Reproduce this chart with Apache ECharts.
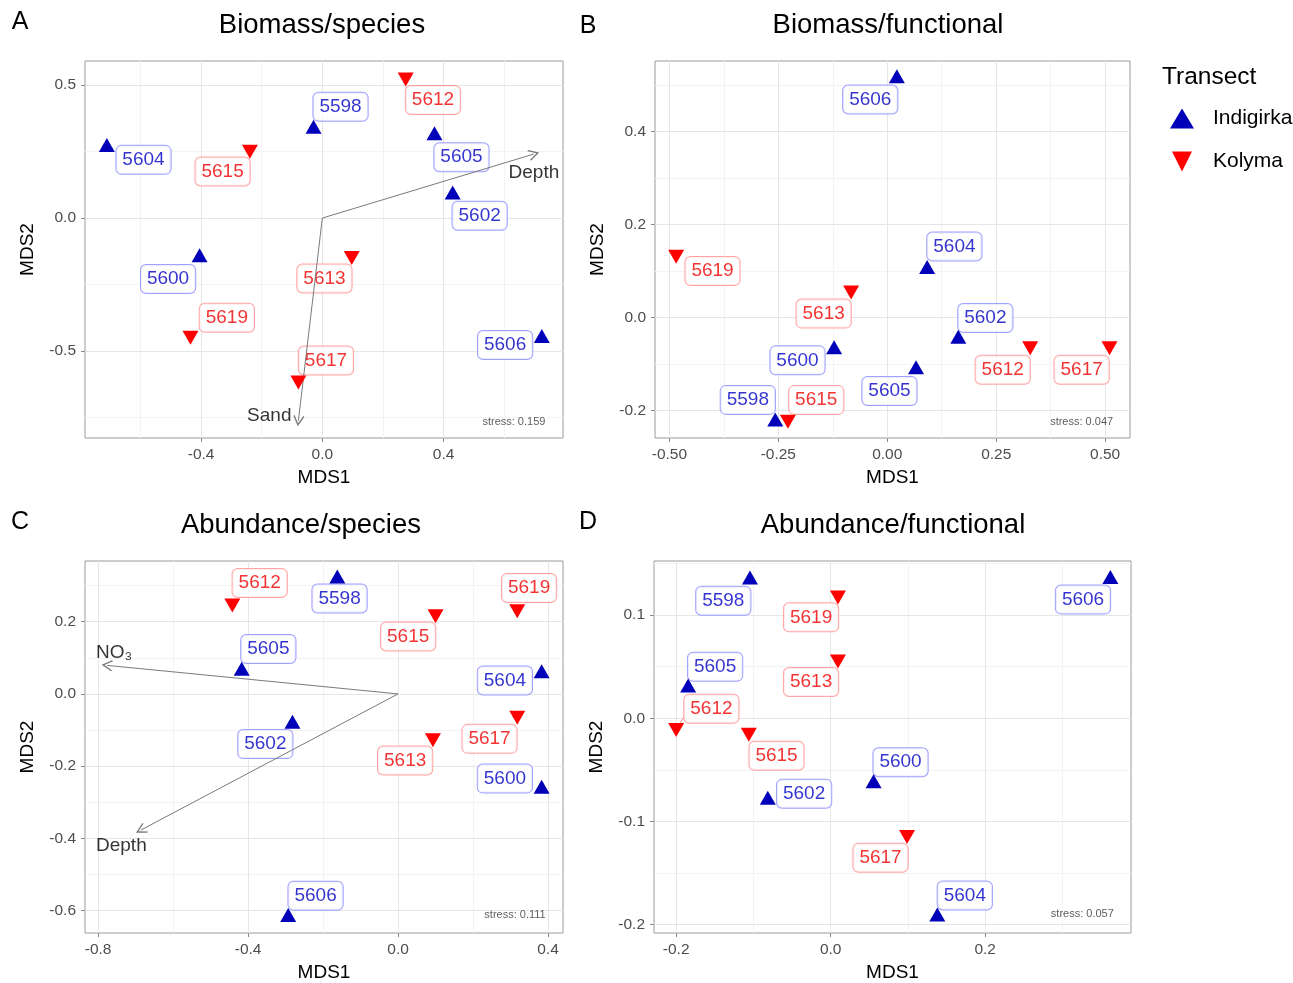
<!DOCTYPE html>
<html><head><meta charset="utf-8">
<script src="https://cdn.jsdelivr.net/npm/echarts@6/dist/echarts.min.js"></script>
<style>html,body{margin:0;padding:0;background:#fff}#c{width:1293px;height:983px}</style>
</head><body><div id="c"></div>
<script>
// ---------- DATA ----------
// Panel A: Biomass/species  [station, MDS1, MDS2]
const aIndigirka = [['5598',-0.029,0.344],['5600',-0.405,-0.14],['5602',0.43,0.096],['5604',-0.711,0.275],['5605',0.37,0.319],['5606',0.724,-0.444]];
const aKolyma = [['5612',0.275,0.521],['5613',0.097,-0.15],['5615',-0.239,0.25],['5617',-0.079,-0.619],['5619',-0.435,-0.45]];
const aIndLabels = [['5598',0.06,0.419],['5600',-0.509,-0.229],['5602',0.519,0.009],['5604',-0.59,0.219],['5605',0.459,0.229],['5606',0.603,-0.4775]];
const aKolLabels = [['5612',0.365,0.444],['5613',0.007,-0.2275],['5615',-0.329,0.175],['5617',0.012,-0.536],['5619',-0.315,-0.375]];
const aVectors = [['Depth',0.698,0.241,0.698,0.169],['Sand',-0.079,-0.7625,-0.175,-0.744]];
const aStress = ['stress: 0.159',0.632,-0.769];
const aXTicks = [-0.4,0,0.4], aXMinor = [-0.6,-0.2,0.2,0.6];
const aYTicks = [-0.5,0,0.5], aYMinor = [-0.75,-0.25,0.25];

// Panel B: Biomass/functional
const bIndigirka = [['5598',-0.257,-0.219],['5600',-0.122,-0.064],['5602',0.163,-0.041],['5604',0.0915,0.109],['5605',0.066,-0.107],['5606',0.022,0.519]];
const bKolyma = [['5612',0.328,-0.066],['5613',-0.083,0.054],['5615',-0.228,-0.224],['5617',0.51,-0.066],['5619',-0.4845,0.131]];
const bIndLabels = [['5598',-0.32,-0.177],['5600',-0.206,-0.092],['5602',0.225,-0.0007],['5604',0.154,0.153],['5605',0.005,-0.158],['5606',-0.039,0.469]];
const bKolLabels = [['5612',0.265,-0.112],['5613',-0.146,0.0086],['5615',-0.163,-0.177],['5617',0.446,-0.112],['5619',-0.401,0.1]];
const bVectors = [];
const bStress = ['stress: 0.047',0.446,-0.225];
const bXTicks = [-0.5,-0.25,0,0.25,0.5], bXMinor = [-0.375,-0.125,0.125,0.375];
const bYTicks = [-0.2,0,0.2,0.4], bYMinor = [-0.1,0.1,0.3,0.5];

// Panel C: Abundance/species
const cIndigirka = [['5598',-0.162,0.325],['5600',0.383,-0.257],['5602',-0.2816,-0.077],['5604',0.383,0.063],['5605',-0.417,0.07],['5606',-0.293,-0.612]];
const cKolyma = [['5612',-0.442,0.245],['5613',0.093,-0.128],['5615',0.1,0.215],['5617',0.318,-0.066],['5619',0.318,0.229]];
const cIndLabels = [['5598',-0.156,0.264],['5600',0.285,-0.2345],['5602',-0.354,-0.139],['5604',0.285,0.037],['5605',-0.346,0.1245],['5606',-0.22,-0.559]];
const cKolLabels = [['5612',-0.369,0.307],['5613',0.019,-0.1845],['5615',0.027,0.159],['5617',0.244,-0.1245],['5619',0.3495,0.293]];
const cVectors = [['NO₃',-0.776,0.079,-0.757,0.115],['Depth',-0.686,-0.377,-0.738,-0.421]];
const cStress = ['stress: 0.111',0.312,-0.612];
const cXTicks = [-0.8,-0.4,0,0.4], cXMinor = [-0.6,-0.2,0.2];
const cYTicks = [-0.6,-0.4,-0.2,0,0.2], cYMinor = [-0.5,-0.3,-0.1,0.1,0.3];

// Panel D: Abundance/functional
const dIndigirka = [['5598',-0.1045,0.1365],['5600',0.0555,-0.061],['5602',-0.0814,-0.077],['5604',0.138,-0.19],['5605',-0.1845,0.0317],['5606',0.362,0.137]];
const dKolyma = [['5612',-0.2,-0.0114],['5613',0.0094,0.055],['5615',-0.106,-0.016],['5617',0.0988,-0.115],['5619',0.0094,0.117]];
const dIndLabels = [['5598',-0.139,0.114],['5600',0.0904,-0.0425],['5602',-0.0344,-0.073],['5604',0.1736,-0.1717],['5605',-0.1496,0.05],['5606',0.3266,0.115]];
const dKolLabels = [['5612',-0.1544,0.0092],['5613',-0.0254,0.0352],['5615',-0.0701,-0.0362],['5617',0.0645,-0.135],['5619',-0.0254,0.0978]];
const dVectors = [];
const dSegments = [[-0.19,0.0013,-0.1986,-0.0089]];
const dStress = ['stress: 0.057',0.3257,-0.19];
const dXTicks = [-0.2,0,0.2], dXMinor = [-0.1,0.1,0.3];
const dYTicks = [-0.2,-0.1,0,0.1], dYMinor = [-0.15,-0.05,0.05,0.15];

// ---------- STYLE / LAYOUT ----------
const FONT = "'Liberation Sans', Arial, Helvetica, sans-serif";
const BLUE = '#0000B8', BLUE_TXT = '#0000C4', BLUE_BORDER = '#8a8aff';
const RED = '#FF0000', RED_TXT = '#F00000', RED_BORDER = '#ff8f8f';
const DOWN = 'path://M0,0L10,0L5,10Z';
const ARROW = 'path://M5,0L10,9L9.2,10L5,2.6L0.8,10L0,9Z';

const panels = [
  {grid:{left:85,top:61,width:478,height:377}, x:[-0.783,0.794], y:[-0.8275,0.591], xDec:1, yDec:1,
   xT:aXTicks,xM:aXMinor,yT:aYTicks,yM:aYMinor, ind:aIndigirka,kol:aKolyma,indL:aIndLabels,kolL:aKolLabels,vec:aVectors,stress:aStress,seg:[]},
  {grid:{left:655,top:61,width:475,height:377}, x:[-0.533,0.557], y:[-0.259,0.552], xDec:2, yDec:1,
   xT:bXTicks,xM:bXMinor,yT:bYTicks,yM:bYMinor, ind:bIndigirka,kol:bKolyma,indL:bIndLabels,kolL:bKolLabels,vec:bVectors,stress:bStress,seg:[]},
  {grid:{left:85,top:561,width:478,height:377}, x:[-0.835,0.44], y:[-0.662,0.368], xDec:1, yDec:1,
   xT:cXTicks,xM:cXMinor,yT:cYTicks,yM:cYMinor, ind:cIndigirka,kol:cKolyma,indL:cIndLabels,kolL:cKolLabels,vec:cVectors,stress:cStress,seg:[]},
  {grid:{left:654,top:561,width:477,height:377}, x:[-0.2287,0.3887], y:[-0.208,0.1524], xDec:1, yDec:1,
   xT:dXTicks,xM:dXMinor,yT:dYTicks,yM:dYMinor, ind:dIndigirka,kol:dKolyma,indL:dIndLabels,kolL:dKolLabels,vec:dVectors,stress:dStress,seg:dSegments}
];

const grids = [], xAxes = [], yAxes = [], series = [];
const fmt = (v,d) => { const s = Number(v).toFixed(d); return s === '-' + (0).toFixed(d) ? (0).toFixed(d) : s; };

panels.forEach((p, i) => {
  grids.push(Object.assign({show:true, borderColor:'#9a9a9a', borderWidth:1, backgroundColor:'#fff', containLabel:false}, p.grid));
  const xi = xAxes.length, yi = yAxes.length;
  xAxes.push({gridIndex:i, type:'value', min:p.x[0], max:p.x[1], position:'bottom', z:1,
    axisLine:{show:false, onZero:false},
    axisTick:{show:true, length:4, lineStyle:{color:'#8a8a8a'}, customValues:p.xT},
    axisLabel:{customValues:p.xT, formatter:v=>fmt(v,p.xDec), color:'#4d4d4d', fontSize:15.5, margin:9, fontFamily:FONT},
    splitLine:{show:true, lineStyle:{color:'#e6e6e6', width:1}},
    name:'MDS1', nameLocation:'middle', nameGap:30, nameTextStyle:{fontSize:19, color:'#000', fontFamily:FONT}});
  xAxes.push({gridIndex:i, type:'value', min:p.x[0], max:p.x[1], position:'top', z:0,
    axisLine:{show:false, onZero:false}, axisTick:{show:false, customValues:p.xM}, axisLabel:{show:false},
    splitLine:{show:true, lineStyle:{color:'#f3f3f3', width:1}}});
  yAxes.push({gridIndex:i, type:'value', min:p.y[0], max:p.y[1], position:'left', z:1,
    axisLine:{show:false, onZero:false},
    axisTick:{show:true, length:4, lineStyle:{color:'#8a8a8a'}, customValues:p.yT},
    axisLabel:{customValues:p.yT, formatter:v=>fmt(v,p.yDec), color:'#4d4d4d', fontSize:15.5, margin:9, fontFamily:FONT},
    splitLine:{show:true, lineStyle:{color:'#e6e6e6', width:1}},
    name:'MDS2', nameLocation:'middle', nameGap:48, nameTextStyle:{fontSize:19, color:'#000', fontFamily:FONT}});
  yAxes.push({gridIndex:i, type:'value', min:p.y[0], max:p.y[1], position:'right', z:0,
    axisLine:{show:false, onZero:false}, axisTick:{show:false, customValues:p.yM}, axisLabel:{show:false},
    splitLine:{show:true, lineStyle:{color:'#f3f3f3', width:1}}});

  const base = {xAxisIndex:xi, yAxisIndex:yi, silent:true, animation:false};
  const labelSeries = (rows, txt, border) => Object.assign({}, base, {
    type:'scatter', z:3, symbol:'rect', symbolSize:1, itemStyle:{color:'rgba(0,0,0,0)'},
    data: rows.map(r => ({name:r[0], value:[r[1], r[2]]})),
    label:{show:true, position:'inside', formatter:'{b}', color:txt, fontSize:19, fontFamily:FONT,
      backgroundColor:'#fff', borderColor:border, borderWidth:1, borderRadius:5, padding:[4,6,2,6], lineHeight:22}
  });
  series.push(labelSeries(p.indL, BLUE_TXT, BLUE_BORDER));
  series.push(labelSeries(p.kolL, RED_TXT, RED_BORDER));

  if (p.vec.length) {
    series.push(Object.assign({}, base, {type:'lines', coordinateSystem:'cartesian2d', z:4,
      symbol:['none', ARROW], symbolSize:11,
      lineStyle:{color:'#7a7a7a', width:1, opacity:1, curveness:0},
      data: p.vec.map(v => ({coords:[[0,0],[v[1],v[2]]]}))}));
  }
  if (p.seg.length) {
    series.push(Object.assign({}, base, {type:'lines', coordinateSystem:'cartesian2d', z:4,
      symbol:['none','none'], lineStyle:{color:RED_BORDER, width:1, opacity:1},
      data: p.seg.map(s => ({coords:[[s[0],s[1]],[s[2],s[3]]]}))}));
  }

  series.push(Object.assign({}, base, {type:'scatter', name:'Indigirka', z:5, symbol:'triangle', symbolSize:[16,14],
    itemStyle:{color:BLUE, opacity:1}, data:p.ind.map(r => ({name:r[0], value:[r[1], r[2]]}))}));
  series.push(Object.assign({}, base, {type:'scatter', name:'Kolyma', z:5, symbol:DOWN, symbolSize:[16,14],
    itemStyle:{color:RED, opacity:1}, data:p.kol.map(r => ({name:r[0], value:[r[1], r[2]]}))}));

  const textItems = p.vec.map(v => ({name:v[0], value:[v[3], v[4]], label:{fontSize:19, color:'#000'}}));
  textItems.push({name:p.stress[0], value:[p.stress[1], p.stress[2]], label:{fontSize:11, color:'#333'}});
  series.push(Object.assign({}, base, {type:'scatter', z:6, symbol:'rect', symbolSize:1, itemStyle:{color:'rgba(0,0,0,0)'},
    data:textItems, label:{show:true, position:'inside', formatter:'{b}', fontFamily:FONT, color:'#000', textBorderWidth:0}}));
});

const titles = [['Biomass/species',322,25],['Biomass/functional',888,25],['Abundance/species',301,525],['Abundance/functional',893,525]];
const letters = [['A',20,22],['B',588,26],['C',20,522],['D',588,522]];
const graphic = [];
titles.forEach(t => graphic.push({type:'text', x:t[1], y:t[2], style:{text:t[0], fontSize:27.5, fontFamily:FONT, fill:'#000', align:'center', verticalAlign:'middle'}}));
letters.forEach(t => graphic.push({type:'text', x:t[1], y:t[2], style:{text:t[0], fontSize:25, fontFamily:FONT, fill:'#000', align:'center', verticalAlign:'middle'}}));
graphic.push({type:'text', x:1162, y:77, style:{text:'Transect', fontSize:24.5, fontFamily:FONT, fill:'#000', align:'left', verticalAlign:'middle'}});

const chart = echarts.init(document.getElementById('c'), null, {renderer:'canvas'});
chart.setOption({
  animation:false,
  backgroundColor:'#fff',
  textStyle:{fontFamily:FONT},
  grid:grids, xAxis:xAxes, yAxis:yAxes, series:series, graphic:graphic,
  legend:{orient:'vertical', left:1165, top:103, itemWidth:24, itemHeight:20, itemGap:22, selectedMode:false,
    textStyle:{fontSize:21, color:'#000', fontFamily:FONT, padding:[0,0,0,14]},
    data:[{name:'Indigirka', icon:'triangle', itemStyle:{color:BLUE}},{name:'Kolyma', icon:DOWN, itemStyle:{color:RED}}]}
});
</script></body></html>
